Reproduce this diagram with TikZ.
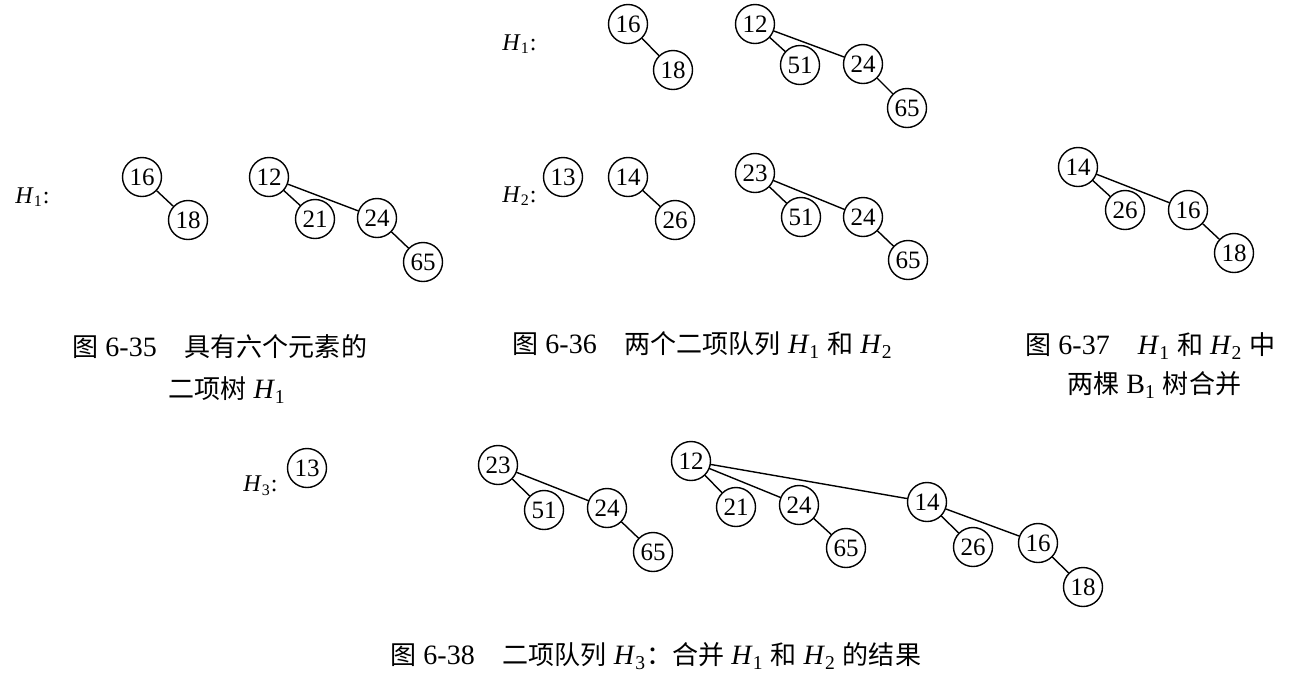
\documentclass[tikz,border=0pt]{standalone}
\usepackage{fontspec}
\setmainfont{Liberation Serif}
\newfontfamily\cjk[Scale=0.93]{Noto Sans CJK SC}
\usepackage{tikz}
\usetikzlibrary{positioning}
\tikzset{key/.style={circle,draw,line width=0.7pt,inner sep=0pt,
    minimum size=19.5pt,font=\fontsize{12.5}{12.5}\selectfont},
  link/.style={line width=0.7pt},
  hname/.style={anchor=west,inner sep=0pt,font=\fontsize{12}{12}\selectfont},
  figcap/.style={anchor=west,inner sep=0pt,font=\fontsize{14}{14}\selectfont}}
\newcommand{\Hq}[1]{\textit{H}\textsubscript{#1}}

\begin{document}
\begin{tikzpicture}[x=0.5pt,y=-0.5pt,line cap=round]

  \useasboundingbox (0,0) rectangle (1306,682);



  \node [hname] (pH1) at (15,197) {\Hq{1}:};

  \node [key] (p16) at (142,177) {16};
  \node [key] (p18) at (188,220) {18};
  \draw [link] (p16) -- (p18);

  \node [key] (p12) at (269,177) {12};
  \node [key] (p21) at (315,219) {21};
  \node [key] (p24) at (377,218) {24};
  \node [key] (p65) at (423,262) {65};
  \draw [link] (p12) -- (p21);
  \draw [link] (p12) -- (p24);
  \draw [link] (p24) -- (p65);

  \node [figcap] (pcapa) at (72,347) {{\cjk 图} 6-35\quad{\cjk 具有六个元素的}};
  \node [figcap] (pcapb) at (168,390) {{\cjk 二项树} \Hq{1}};




  \node [hname] (qH1) at (502,44) {\Hq{1}:};

  \node [key] (q16) at (628,24) {16};
  \node [key] (q18) at (673,70) {18};
  \draw [link] (q16) -- (q18);

  \node [key] (q12) at (755,24) {12};
  \node [key] (q51) at (800,65) {51};
  \node [key] (q24) at (863,64) {24};
  \node [key] (q65) at (907,108) {65};
  \draw [link] (q12) -- (q51);
  \draw [link] (q12) -- (q24);
  \draw [link] (q24) -- (q65);


  \node [hname] (qH2) at (502,196) {\Hq{2}:};

  \node [key] (q13) at (563,177) {13};

  \node [key] (q14) at (628,177) {14};
  \node [key] (q26) at (675,220) {26};
  \draw [link] (q14) -- (q26);

  \node [key] (q23) at (755,173) {23};
  \node [key] (q51b) at (801,217) {51};
  \node [key] (q24b) at (863,217) {24};
  \node [key] (q65b) at (908,260) {65};
  \draw [link] (q23) -- (q51b);
  \draw [link] (q23) -- (q24b);
  \draw [link] (q24b) -- (q65b);

  \node [figcap] (qcap) at (512,345)
    {{\cjk 图} 6-36\quad{\cjk 两个二项队列} \Hq{1} {\cjk 和} \Hq{2}};




  \node [key] (r14) at (1078,167) {14};
  \node [key] (r26) at (1125,210) {26};
  \node [key] (r16) at (1188,210) {16};
  \node [key] (r18) at (1234,253) {18};
  \draw [link] (r14) -- (r26);
  \draw [link] (r14) -- (r16);
  \draw [link] (r16) -- (r18);

  \node [figcap] (rcapa) at (1025,346) {{\cjk 图} 6-37\quad\Hq{1} {\cjk 和} \Hq{2} {\cjk 中}};
  \node [figcap] (rcapb) at (1067,385) {{\cjk 两棵} B\textsubscript{1} {\cjk 树合并}};




  \node [hname] (sH3) at (243,486) {\Hq{3}:};
  \node [key] (s13) at (307,468) {13};

  \node [key] (s23) at (498,465) {23};
  \node [key] (s51) at (544,510) {51};
  \node [key] (s24) at (607,508) {24};
  \node [key] (s65) at (653,552) {65};
  \draw [link] (s23) -- (s51);
  \draw [link] (s23) -- (s24);
  \draw [link] (s24) -- (s65);

  \node [key] (s12) at (691,461) {12};
  \node [key] (s21) at (736,507) {21};
  \node [key] (s24b) at (799,505) {24};
  \node [key] (s65b) at (846,548) {65};
  \node [key] (s14) at (927,502) {14};
  \node [key] (s26) at (973,547) {26};
  \node [key] (s16) at (1038,543) {16};
  \node [key] (s18) at (1083,587) {18};
  \draw [link] (s12) -- (s21);
  \draw [link] (s12) -- (s24b);
  \draw [link] (s12) -- (s14);
  \draw [link] (s24b) -- (s65b);
  \draw [link] (s14) -- (s26);
  \draw [link] (s14) -- (s16);
  \draw [link] (s16) -- (s18);

  \node [figcap] (scap) at (390,656)
    {{\cjk 图} 6-38\quad{\cjk 二项队列} \Hq{3}{\cjk ：合并} \Hq{1} {\cjk 和} \Hq{2} {\cjk 的结果}};



\end{tikzpicture}
\end{document}
